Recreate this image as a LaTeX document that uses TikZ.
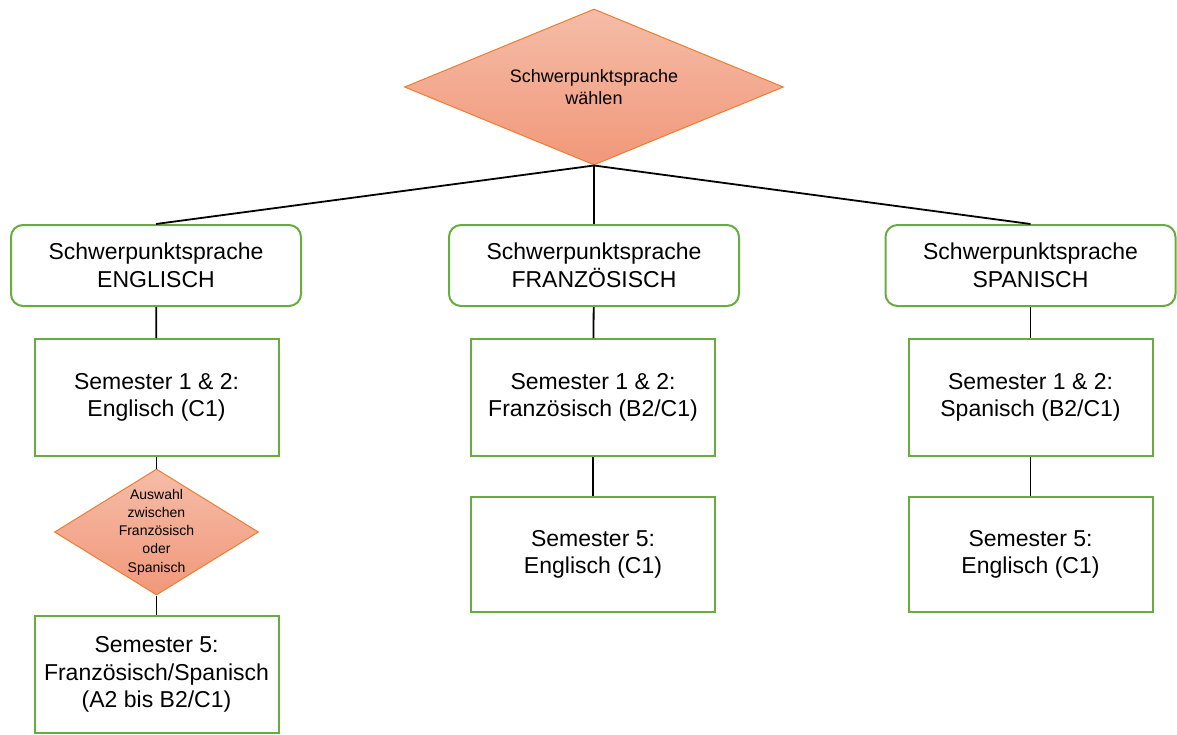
\documentclass[tikz,border=0pt]{standalone}
\usepackage{xcolor}
\usepackage{fontspec}
\setmainfont{Liberation Sans}
\usepackage{tikz}
\usetikzlibrary{shapes.geometric}

\definecolor{boxgreen}{RGB}{104,172,64}
\definecolor{choiceline}{RGB}{237,125,49}
\definecolor{choicetop}{RGB}{245,188,167}
\definecolor{choicebot}{RGB}{241,152,122}

\begin{document}
\begin{tikzpicture}[x=1pt,y=-1pt]
		\tikzstyle{every node}+=[inner sep=0pt,align=center,font=\fontsize{23}{27.5}\selectfont]
		\tikzstyle{choice}=[diamond,draw=choiceline,line width=1pt,inner sep=-20pt,top color=choicetop,bottom color=choicebot]
		\tikzstyle{track}=[draw=boxgreen,line width=2pt,rounded corners=12pt,minimum width=290pt,minimum height=81pt]
		\tikzstyle{sem}=[draw=boxgreen,line width=2pt,fill=white,minimum width=244pt,minimum height=117pt]
		\useasboundingbox (0,0) rectangle (1177,734);
		\node[choice,shape aspect=2.43,minimum width=379pt,minimum height=156pt,font=\fontsize{18}{22}\selectfont] (wahl) at (594,87) {Schwerpunktsprache\\w\"ahlen};
		\node[track] (eng) at (156,265.5) {Schwerpunktsprache\\ENGLISCH};
		\node[track] (fra) at (594,265.5) {Schwerpunktsprache\\FRANZ\"OSISCH};
		\node[track] (spa) at (1030.5,265.5) {Schwerpunktsprache\\SPANISCH};
		\node[sem] (eng12) at (156.5,397.5) {Semester 1 \& 2:\\Englisch (C1)};
		\node[sem] (fra12) at (593,397.5) {Semester 1 \& 2:\\Franz\"osisch (B2/C1)};
		\node[sem] (spa12) at (1030.5,397.5) {Semester 1 \& 2:\\Spanisch (B2/C1)};
		\node[choice,shape aspect=1.62,minimum width=204pt,minimum height=126pt,font=\fontsize{14}{18.2}\selectfont] (auswahl) at (156.5,532) {Auswahl\\zwischen\\Franz\"osisch\\oder\\Spanisch};
		\node[sem] (eng5) at (156.5,674.5) {Semester 5:\\Franz\"osisch/Spanisch\\(A2 bis B2/C1)};
		\node[sem,minimum height=115pt] (fra5) at (593,554.5) {Semester 5:\\Englisch (C1)};
		\node[sem,minimum height=115pt] (spa5) at (1030.5,554.5) {Semester 5:\\Englisch (C1)};
		\tikzstyle{every edge}+=[line width=1.8pt]
		\draw
		(wahl.south) edge (eng.north) edge (fra.north) edge (spa.north)
		(eng) edge (eng12)
		(fra) edge (fra12)
		(spa) edge (spa12)
		(eng12) edge (auswahl)
		(auswahl) edge (eng5)
		(fra12) edge (fra5)
		(spa12) edge (spa5)
		;
	\end{tikzpicture}
\end{document}
